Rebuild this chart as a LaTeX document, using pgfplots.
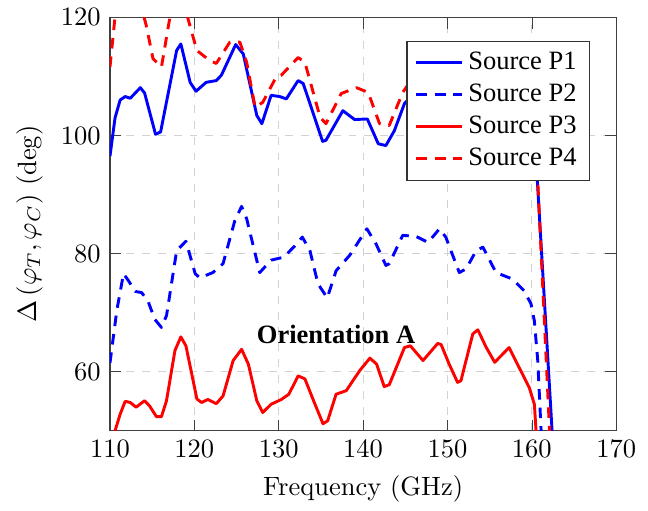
\documentclass[border=0pt]{standalone}
\usepackage{fontspec}
\usepackage{pgfplots}
\pgfplotsset{compat=1.18}
\newfontfamily\timesf{Liberation Serif}

\begin{document}
\begin{tikzpicture}
\begin{axis}[
  scale only axis,
  width=191pt, height=156pt,
  xmin=110, xmax=170,
  ymin=50, ymax=120,
  xtick={110,120,...,170},
  ytick={60,80,100,120},
  grid=major,
  major grid style={dashed, gray!35},
  axis line style={black!75},
  tick style={black!75},
  xlabel={Frequency (GHz)},
  ylabel={$\Delta\left(\varphi_T,\varphi_C\right)$ (deg)},
  legend style={at={(rel axis cs:0.949,0.944)}, anchor=north east,
    font=\timesf, draw=black!80, cells={anchor=west}},
  every axis plot/.append style={line width=1.1pt, line join=round},
]
% Source P1
\addplot[blue] coordinates {
  (110,96.5) (110.6,103) (111.2,106) (111.8,106.6) (112.4,106.3) (113.6,108.1)
  (114.1,107.2) (115.4,100.2) (116.0,100.6) (117.9,114.4) (118.4,115.5)
  (119.5,109) (120.2,107.5) (121.4,109) (122.6,109.3) (123.2,110.2)
  (124.9,115.4) (125.8,113.8) (127.4,103.4) (128.0,102) (129.1,106.8)
  (130.1,106.6) (130.9,106.2) (132.3,109.3) (132.9,108.8) (135.2,99.0)
  (135.6,99.2) (137.6,104.2) (139.0,102.7) (140.5,102.8) (141.8,98.6)
  (142.7,98.3) (143.7,100.8) (144.9,105.4) (146,107) (148,105) (150,106)
  (152,104) (154,106) (156,104) (158,105) (160.2,103.3) (162.4,50) (162.5,47.6)
};
\addlegendentry{Source P1}
% Source P2
\addplot[blue, dash pattern=on 4pt off 3pt] coordinates {
  (110,61.5) (110.8,70.3) (111.6,76.6) (112.2,75.4) (113.0,73.6) (113.75,73.4)
  (114.5,72.0) (115.3,68.9) (116.1,67.5) (116.7,69.5) (117.9,80.5) (119.0,82.1)
  (120.1,76.6) (120.65,75.9) (122.2,76.8) (123.4,78.3) (124.8,85.6) (125.6,88)
  (126.2,85.9) (127.75,76.8) (129.1,78.9) (130.6,79.4) (131.9,81.3) (132.8,82.8)
  (133.7,80.5) (134.65,74.9) (135.75,72.5) (136.8,77.1) (138.4,79.7)
  (140.45,84.2) (141.55,81.6) (142.7,78.0) (143.1,78.3) (144.7,83.1)
  (146.3,82.9) (147.7,81.9) (149.05,84.2) (149.8,82.8) (151.4,76.8)
  (152.2,77.4) (153.4,80.5) (154.2,81.1) (155.75,76.8) (157.7,75.7)
  (159.1,73.7) (159.9,71.5) (160.3,68.6) (160.7,61.9) (161.1,50) (161.2,47)
};
\addlegendentry{Source P2}
% Source P3
\addplot[red] coordinates {
  (110,44) (110.6,50) (111.2,52.8) (111.8,55.0) (112.4,54.8) (113.1,54.0)
  (114.1,55.1) (114.7,54.2) (115.5,52.4) (116.1,52.4) (116.7,55.1)
  (117.7,63.6) (118.4,65.9) (119.0,64.4) (120.3,55.4) (120.85,54.8)
  (121.6,55.3) (122.6,54.6) (123.4,55.9) (124.6,61.9) (125.6,63.8)
  (126.4,61.3) (127.4,55.1) (128.1,53.1) (129.1,54.5) (130.3,55.3)
  (131.2,56.2) (132.3,59.3) (133.1,58.8) (134.3,54.5) (135.25,51.2)
  (135.8,51.7) (136.8,56.2) (138.0,56.8) (139.6,60.2) (140.8,62.3)
  (141.6,61.3) (142.5,57.5) (143.1,57.8) (144.9,64.1) (145.6,64.4)
  (147.1,61.9) (148.85,64.8) (149.25,64.6) (150.2,61.3) (151.2,58.2)
  (151.6,58.5) (153.0,66.4) (153.6,67.1) (154.6,64.1) (155.6,61.6)
  (157.3,64.1) (158.5,60.7) (159.7,57.3) (160.3,54.5) (160.5,50) (160.55,47)
};
\addlegendentry{Source P3}
% Source P4
\addplot[red, dash pattern=on 4pt off 3pt] coordinates {
  (110,111.6) (110.8,123) (112,124) (113.5,123) (114.3,118.6) (115.1,113)
  (116.1,111.6) (117.1,120) (117.6,123) (118.6,123) (119.2,120) (120.3,114.4)
  (121.8,112.7) (122.6,112.2) (124.2,115.8) (125.4,115.8) (126.2,112.4)
  (127.2,104.8) (128.1,105.6) (129.7,109.9) (130.3,110.2) (132.3,113.2)
  (133.1,112.4) (134.9,103.1) (135.6,102) (137.4,107.1) (139.2,108.1)
  (140.6,107.3) (141.95,102) (143.1,101.7) (144.7,107.3) (146,110) (148,108)
  (150,109) (152,107) (154,109) (156,107) (158,108) (160.3,104.4)
  (162.1,50) (162.2,47)
};
\addlegendentry{Source P4}
\node[font=\timesf\bfseries] at (axis cs:136.8,66.4) {Orientation A};
\end{axis}
\path ([shift={(-41.5pt,-28pt)}]current axis.south west)
  rectangle ([shift={(12pt,6.4pt)}]current axis.north east);
\end{tikzpicture}
\end{document}
